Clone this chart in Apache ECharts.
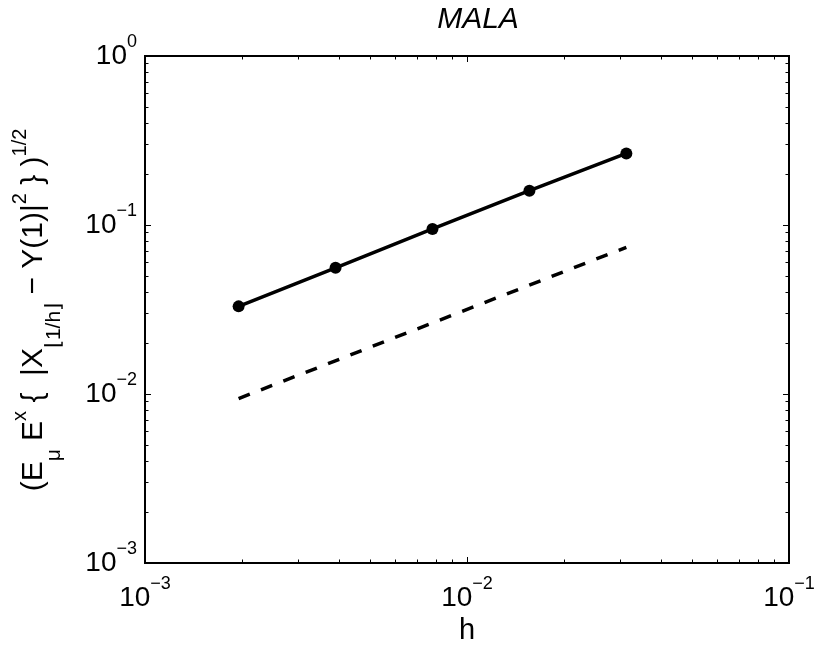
<!DOCTYPE html>
<html>
<head>
<meta charset="utf-8">
<script src="https://cdn.jsdelivr.net/npm/echarts@6/dist/echarts.min.js"></script>
<style>
  html, body { margin: 0; padding: 0; background: #fff; }
  #chart { width: 817px; height: 645px; }
</style>
</head>
<body>
<div id="chart"></div>
<script>
// Step sizes h and the measured root-mean-square error for MALA
const stepSizes = [0.001953125, 0.00390625, 0.0078125, 0.015625, 0.03125];
const errorValues = [0.0330, 0.0558, 0.0948, 0.1596, 0.2652];

// Reference slope line (dashed), end points
const refSteps = [0.001953125, 0.03125];
const refValues = [0.0094, 0.0738];

// Decade exponents used as tick labels
const xTickExponents = [-3, -2, -1];
const yTickExponents = [-3, -2, -1, 0];

const FONT = '"Liberation Sans", Arial, Helvetica, sans-serif';

function pow10Label(v) {
  const e = Math.round(Math.log10(v));
  return '{b|10}{s|' + (e < 0 ? '\u2212' + (-e) : String(e)) + '}';
}
const powRich = {
  b: { fontSize: 28, fontFamily: FONT, color: '#000', verticalAlign: 'middle' },
  s: { fontSize: 18, fontFamily: FONT, color: '#000', verticalAlign: 'middle', padding: [0, 0, 28, 0] }
};

// minor tick positions 2..9 x 10^k inside each decade
function minorTicks(exps) {
  const out = [];
  for (let i = 0; i < exps.length - 1; i++) {
    for (let m = 2; m <= 9; m++) out.push(m * Math.pow(10, exps[i]));
  }
  return out;
}
const xMajor = xTickExponents.map(e => Math.pow(10, e));
const yMajor = yTickExponents.map(e => Math.pow(10, e));
const xMinor = minorTicks(xTickExponents);
const yMinor = minorTicks(yTickExponents);

const axisLine = { show: true, onZero: false, lineStyle: { color: '#000', width: 2 } };

function frameAxis(position, isX, ticks, len, withLabels) {
  const exps = isX ? xTickExponents : yTickExponents;
  const ax = {
    type: 'log',
    logBase: 10,
    position: position,
    min: Math.pow(10, exps[0]),
    max: Math.pow(10, exps[exps.length - 1]),
    axisLine: axisLine,
    axisTick: { show: true, inside: true, length: len, customValues: ticks,
                lineStyle: { color: '#000', width: 1 } },
    splitLine: { show: false },
    minorTick: { show: false },
    axisLabel: { show: false }
  };
  if (withLabels) {
    ax.axisLabel = {
      show: true,
      customValues: isX ? xMajor : yMajor,
      formatter: pow10Label,
      rich: powRich,
      margin: isX ? 12 : 8
    };
  }
  return ax;
}

const xAxes = [
  frameAxis('bottom', true, xMajor, 6, true),
  frameAxis('top', true, xMajor, 6, false),
  frameAxis('bottom', true, xMinor, 3.5, false),
  frameAxis('top', true, xMinor, 3.5, false)
];
xAxes[0].name = 'h';
xAxes[0].nameLocation = 'middle';
xAxes[0].nameGap = 52;
xAxes[0].nameTextStyle = { fontSize: 29, fontFamily: FONT, color: '#000' };

const yAxes = [
  frameAxis('left', false, yMajor, 6, true),
  frameAxis('right', false, yMajor, 6, false),
  frameAxis('left', false, yMinor, 3.5, false),
  frameAxis('right', false, yMinor, 3.5, false)
];

// vertical axis title, written with sub- and superscripts
const yTitle = '(E{sub|\u03bc} E{sup|x} {  |X{sub|\u230a1/h\u230b} \u2212 Y(1)|{sup|2} } ){sup|1/2}';

const chart = echarts.init(document.getElementById('chart'), null, { renderer: 'canvas' });
chart.setOption({
  animation: false,
  backgroundColor: '#fff',
  title: {
    text: 'MALA',
    left: 473,
    textAlign: 'center',
    top: 0,
    textStyle: { fontSize: 30, fontStyle: 'italic', fontWeight: 'normal', fontFamily: FONT, color: '#000' }
  },
  grid: { left: 145, right: 28, top: 56, bottom: 82, containLabel: false, outerBoundsMode: 'none' },
  xAxis: xAxes,
  yAxis: yAxes,
  graphic: [{
    type: 'text',
    x: 34,
    y: 310,
    rotation: Math.PI / 2,
    style: {
      text: yTitle,
      fontSize: 30,
      fontFamily: FONT,
      fill: '#000',
      align: 'center',
      verticalAlign: 'middle',
      rich: {
        sub: { fontSize: 21, fontFamily: FONT, fill: '#000', verticalAlign: 'middle', padding: [40, 0, 0, 0] },
        sup: { fontSize: 20, fontFamily: FONT, fill: '#000', verticalAlign: 'middle', padding: [0, 0, 28, 0] }
      }
    }
  }],
  series: [
    {
      type: 'line',
      xAxisIndex: 0, yAxisIndex: 0,
      data: stepSizes.map((h, i) => [h, errorValues[i]]),
      symbol: 'circle',
      symbolSize: 12,
      itemStyle: { color: '#000' },
      lineStyle: { color: '#000', width: 3.5 }
    },
    {
      type: 'line',
      xAxisIndex: 0, yAxisIndex: 0,
      data: refSteps.map((h, i) => [h, refValues[i]]),
      symbol: 'none',
      lineStyle: { color: '#000', width: 3.5, type: [12, 12] }
    }
  ]
});
</script>
</body>
</html>
